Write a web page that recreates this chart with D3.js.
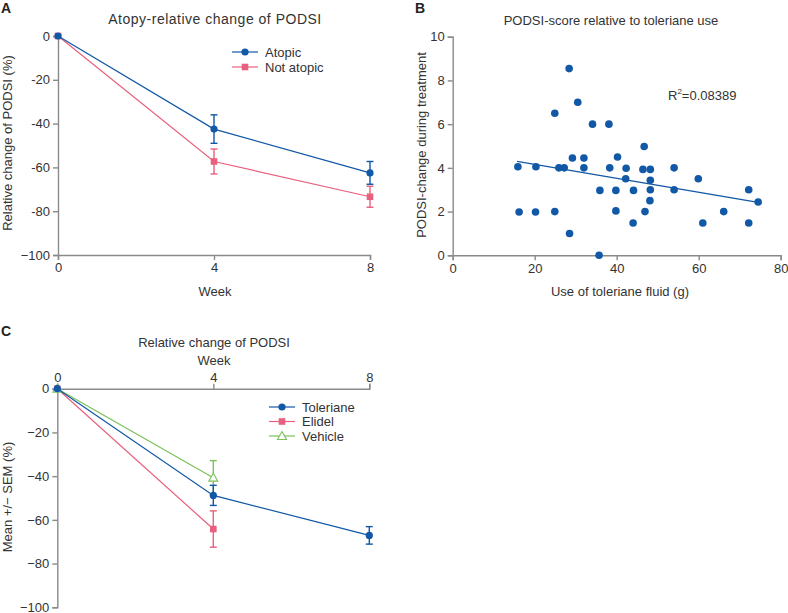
<!DOCTYPE html>
<html>
<head>
<meta charset="utf-8">
<script src="https://cdn.jsdelivr.net/npm/d3@7"></script>
<style>
  body { margin: 0; background: #fff; }
  svg { font-family: "Liberation Sans", Arial, sans-serif; }
  .axis path, .axis line { stroke: #8a8a8a; stroke-width: 1.4; }
  .axis text { font-size: 13px; fill: #333; }
  .title { font-size: 13px; fill: #333; }
  .label { font-size: 13px; fill: #333; }
  .panel { font-size: 14px; font-weight: bold; fill: #222; }
</style>
</head>
<body>
<script>
// panel A data
var weeks = [0, 4, 8];
var atopicMean = [0, -42.5, -62.5];
var atopicErr = [0, 6.5, 5.2];
var notAtopicMean = [0, -57.3, -73.4];
var notAtopicErr = [0, 5.7, 4.8];
var aYTicks = [0, -20, -40, -60, -80, -100];
var aYTickLabels = ["0", "-20", "-40", "-60", "-80", "\u2212100"];

// panel B data
var useFluid = [15.9, 16.2, 20.3, 20.2, 24.9, 24.9, 25.9, 27.2, 28.4, 28.5, 29.2, 30.5, 32.0, 32.0, 34.1,
    35.9, 35.7, 38.1, 38.3, 40.2, 39.8, 39.8, 42.3, 42.2, 44.1, 44.0, 46.7, 46.4, 46.9, 48.2,
    48.2, 48.2, 48.1, 54.0, 54.0, 59.9, 61.0, 66.1, 72.2, 72.2, 74.5];
var podsiChange = [4.05, 1.98, 4.05, 1.98, 6.5, 2.0, 4.0, 4.0, 8.54, 1.0, 4.45, 7.0, 4.45, 4.0, 6.0,
    2.97, 0, 6.0, 4.0, 4.5, 2.97, 2.03, 3.98, 3.5, 2.97, 1.48, 4.98, 3.93, 2.0, 3.93,
    3.43, 3.0, 2.5, 4.0, 3.0, 3.5, 1.48, 2.0, 3.0, 1.48, 2.44];
var fitX = [15.7, 74.5];
var fitY = [4.3, 2.42];
var bXTicks = [0, 20, 40, 60, 80];
var bYTicks = [0, 2, 4, 6, 8, 10];

// panel C data
var tolerianeWeeks = [0, 4, 8];
var tolerianeMean = [0, -48.8, -67.1];
var tolerianeErr = [0, 4.6, 4.0];
var elidelWeeks = [0, 4];
var elidelMean = [0, -64.2];
var elidelErr = [0, 8.3];
var vehicleWeeks = [0, 4];
var vehicleMean = [0, -40.7];
var vehicleErr = [0, 7.8];
var cYTicks = [0, -20, -40, -60, -80, -100];
var cYTickLabels = ["0", "\u221220", "\u221240", "\u221260", "\u221280", "\u2212100"];

var blue = "#1158a6", pink = "#e8607d", green = "#7cc15a";

var svg = d3.select("body").append("svg")
    .attr("width", 788)
    .attr("height", 613);

//build a series object list
function series(xs, ms, es){
    return xs.map(function(x, i){ return {x: x, m: ms[i], e: es[i]}; });
}

//draw line, error bars and markers for one series
function drawSeries(g, data, x, y, color, shape){
    g.append("path")
        .datum(data)
        .attr("fill", "none")
        .attr("stroke", color)
        .attr("stroke-width", 1.2)
        .attr("d", d3.line().x(function(d){ return x(d.x); }).y(function(d){ return y(d.m); }));

    var eb = g.selectAll(null).data(data.filter(function(d){ return d.e > 0; })).enter().append("g")
        .attr("stroke", color).attr("stroke-width", 1.4);
    eb.append("line")
        .attr("x1", function(d){ return x(d.x); }).attr("x2", function(d){ return x(d.x); })
        .attr("y1", function(d){ return y(d.m + d.e); }).attr("y2", function(d){ return y(d.m - d.e); });
    [1, -1].forEach(function(s){
        eb.append("line")
            .attr("x1", function(d){ return x(d.x) - 3.5; }).attr("x2", function(d){ return x(d.x) + 3.5; })
            .attr("y1", function(d){ return y(d.m + s * d.e); }).attr("y2", function(d){ return y(d.m + s * d.e); });
    });

    drawMarkers(g, data.map(function(d){ return [x(d.x), y(d.m)]; }), color, shape);
}

function drawMarkers(g, pts, color, shape){
    pts.forEach(function(p){
        if (shape == "circle"){
            g.append("circle").attr("cx", p[0]).attr("cy", p[1]).attr("r", 3.6).attr("fill", color);
        } else if (shape == "square"){
            g.append("rect").attr("x", p[0] - 3.3).attr("y", p[1] - 3.3)
                .attr("width", 6.6).attr("height", 6.6).attr("fill", color);
        } else {
            g.append("path").attr("transform", "translate(" + p[0] + "," + p[1] + ")")
                .attr("d", "M0,-4.5L4.5,3.5L-4.5,3.5Z")
                .attr("fill", "#fff").attr("stroke", color).attr("stroke-width", 1.1);
        }
    });
}

function legend(g, items, x0, y0, dy){
    items.forEach(function(it, i){
        var yy = y0 + i * dy;
        g.append("line").attr("x1", x0).attr("x2", x0 + 26).attr("y1", yy).attr("y2", yy)
            .attr("stroke", it.color).attr("stroke-width", 1.2);
        drawMarkers(g, [[x0 + 13, yy]], it.color, it.shape);
        g.append("text").attr("class", "label").attr("x", x0 + 33).attr("y", yy + 4.5).text(it.name);
    });
}

// ---------- panel A ----------
(function(){
    var x = d3.scaleLinear().domain([0, 8]).range([58, 370]);
    var y = d3.scaleLinear().domain([-100, 0]).range([255, 36]);
    var g = svg.append("g");

    g.append("g").attr("class", "axis")
        .attr("transform", "translate(0,255)")
        .call(d3.axisBottom(x).tickValues(weeks).tickSizeOuter(0).tickSize(5).tickPadding(3));
    g.append("g").attr("class", "axis")
        .attr("transform", "translate(58,0)")
        .call(d3.axisLeft(y).tickValues(aYTicks).tickSizeOuter(0).tickSize(5).tickPadding(3)
            .tickFormat(function(d, i){ return aYTickLabels[i]; }));

    drawSeries(g, series(weeks, notAtopicMean, notAtopicErr), x, y, pink, "square");
    drawSeries(g, series(weeks, atopicMean, atopicErr), x, y, blue, "circle");

    legend(g, [{name: "Atopic", color: blue, shape: "circle"},
               {name: "Not atopic", color: pink, shape: "square"}], 232, 52, 15);

    g.append("text").attr("class", "title").attr("x", 215).attr("y", 24)
        .attr("text-anchor", "middle")
        .style("font-size", "14px").style("letter-spacing", "0.5px")
        .text("Atopy-relative change of PODSI");
    g.append("text").attr("class", "label").attr("x", 215).attr("y", 296)
        .attr("text-anchor", "middle").text("Week");
    g.append("text").attr("class", "label")
        .attr("transform", "translate(12,143) rotate(-90)")
        .attr("text-anchor", "middle").text("Relative change of PODSI (%)");
    g.append("text").attr("class", "panel").attr("x", 1).attr("y", 13).text("A");
})();

// ---------- panel B ----------
(function(){
    var x = d3.scaleLinear().domain([0, 80]).range([452.7, 780.7]);
    var y = d3.scaleLinear().domain([0, 10]).range([255.3, 36.7]);
    var g = svg.append("g");

    g.append("g").attr("class", "axis")
        .attr("transform", "translate(0,255.3)")
        .call(d3.axisBottom(x).tickValues(bXTicks).tickSizeOuter(0).tickSize(5).tickPadding(3));
    g.append("g").attr("class", "axis")
        .attr("transform", "translate(452.7,0)")
        .call(d3.axisLeft(y).tickValues(bYTicks).tickSizeOuter(0).tickSize(5).tickPadding(3));

    g.append("line")
        .attr("x1", x(fitX[0])).attr("y1", y(fitY[0]))
        .attr("x2", x(fitX[1])).attr("y2", y(fitY[1]))
        .attr("stroke", blue).attr("stroke-width", 1.2);

    g.selectAll(".dot").data(useFluid).enter().append("circle")
        .attr("class", "dot")
        .attr("cx", function(d){ return x(d); })
        .attr("cy", function(d, i){ return y(podsiChange[i]); })
        .attr("r", 3.8)
        .attr("fill", blue);

    var r2 = g.append("text").attr("class", "label").attr("x", 668).attr("y", 100);
    r2.append("tspan").text("R");
    r2.append("tspan").attr("dy", -6).attr("font-size", 8).text("2");
    r2.append("tspan").attr("dy", 6).text("=0.08389");

    g.append("text").attr("class", "title").attr("x", 611).attr("y", 25)
        .attr("text-anchor", "middle").text("PODSI-score relative to toleriane use");
    g.append("text").attr("class", "label").attr("x", 620).attr("y", 296)
        .attr("text-anchor", "middle").text("Use of toleriane fluid (g)");
    g.append("text").attr("class", "label")
        .attr("transform", "translate(426,145) rotate(-90)")
        .attr("text-anchor", "middle").text("PODSI-change during treatment");
    g.append("text").attr("class", "panel").attr("x", 415).attr("y", 13).text("B");
})();

// ---------- panel C ----------
(function(){
    var x = d3.scaleLinear().domain([0, 8]).range([57.3, 369.3]);
    var y = d3.scaleLinear().domain([-100, 0]).range([607.3, 388.7]);
    var g = svg.append("g");

    g.append("g").attr("class", "axis")
        .attr("transform", "translate(0,388.7)")
        .call(d3.axisTop(x).tickValues(weeks).tickSizeOuter(0).tickSize(5).tickPadding(2));
    g.append("g").attr("class", "axis")
        .attr("transform", "translate(57.3,0)")
        .call(d3.axisLeft(y).tickValues(cYTicks).tickSizeOuter(0).tickSize(5).tickPadding(3)
            .tickFormat(function(d, i){ return cYTickLabels[i]; }));

    drawSeries(g, series(elidelWeeks, elidelMean, elidelErr), x, y, pink, "square");
    drawSeries(g, series(vehicleWeeks, vehicleMean, vehicleErr), x, y, green, "triangle");
    drawSeries(g, series(tolerianeWeeks, tolerianeMean, tolerianeErr), x, y, blue, "circle");

    legend(g, [{name: "Toleriane", color: blue, shape: "circle"},
               {name: "Elidel", color: pink, shape: "square"},
               {name: "Vehicle", color: green, shape: "triangle"}], 269, 407, 14.5);

    g.append("text").attr("class", "title").attr("x", 214).attr("y", 347)
        .attr("text-anchor", "middle").text("Relative change of PODSI");
    g.append("text").attr("class", "label").attr("x", 214).attr("y", 365)
        .attr("text-anchor", "middle").text("Week");
    g.append("text").attr("class", "label")
        .attr("transform", "translate(12,497) rotate(-90)")
        .attr("text-anchor", "middle").text("Mean +/\u2212 SEM (%)");
    g.append("text").attr("class", "panel").attr("x", 1).attr("y", 336).text("C");
})();
</script>
</body>
</html>
